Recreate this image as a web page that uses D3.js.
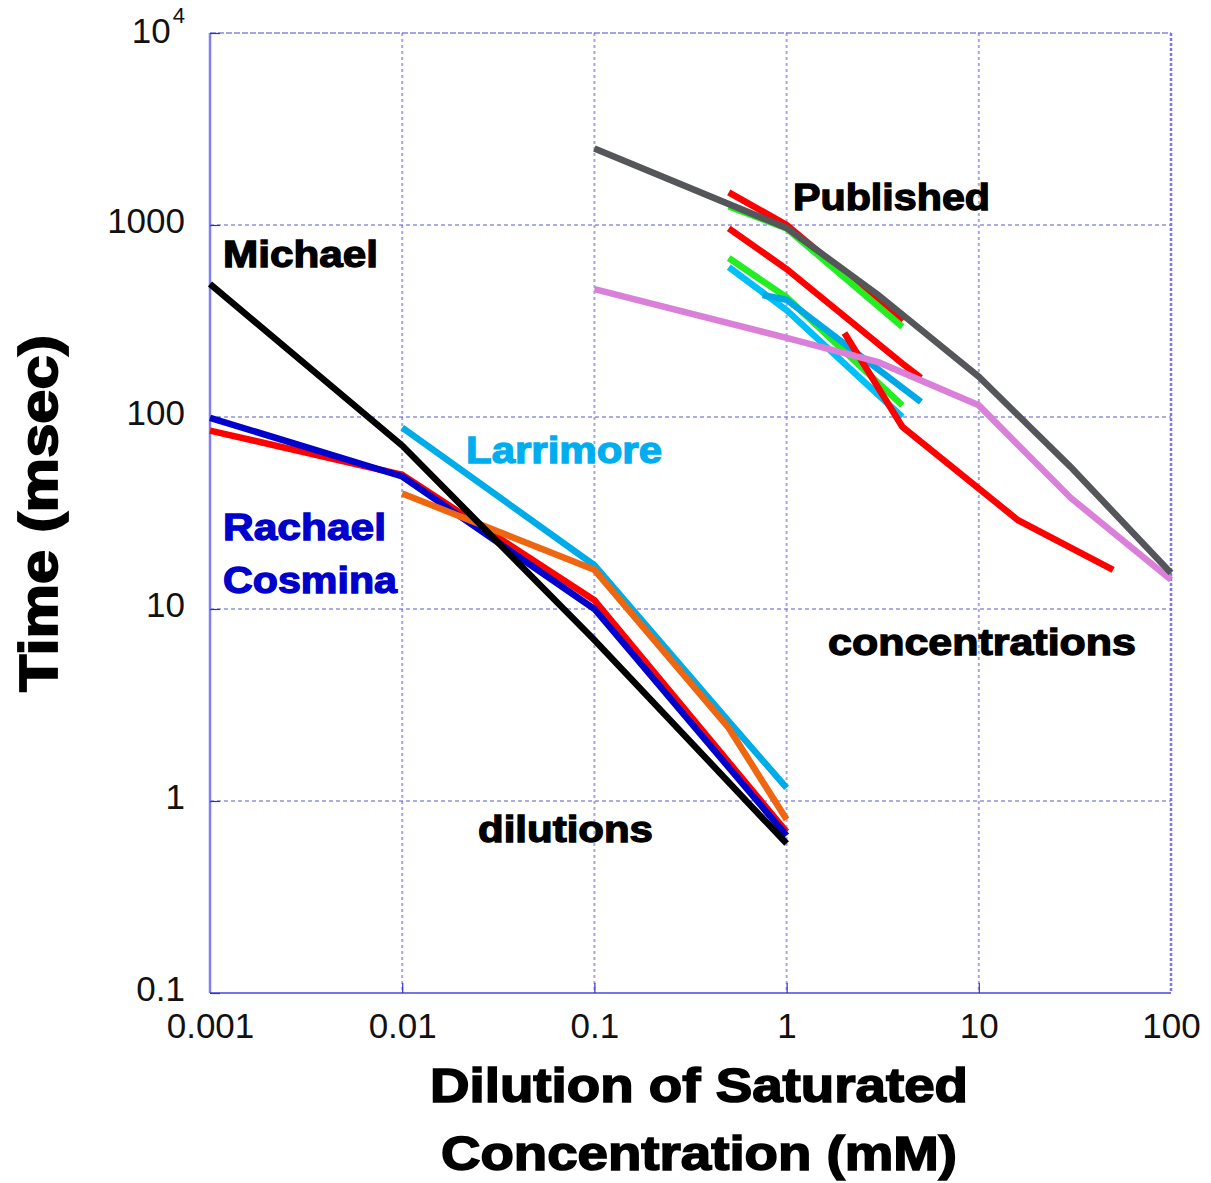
<!DOCTYPE html>
<html>
<head>
<meta charset="utf-8">
<script src="https://cdn.jsdelivr.net/npm/d3@7"></script>
<style>
  body { margin: 0; background: #fff; }
  text { font-family: "Liberation Sans", Arial, sans-serif; }
</style>
</head>
<body>
<svg id="chart"></svg>
<script>
  const W = 1211, H = 1183,
        plotLeft = 210, plotRight = 1171, plotTop = 33, plotBottom = 993;

  // tick values
  const xTicks = [0.001, 0.01, 0.1, 1, 10, 100];
  const xTickLabels = ["0.001", "0.01", "0.1", "1", "10", "100"];
  const yTicks = [0.1, 1, 10, 100, 1000, 10000];
  const yTickLabels = ["0.1", "1", "10", "100", "1000", "10^4"];

  // dilution series
  const michaelX = [0.001, 0.01, 0.1, 1],   michaelY = [493, 71, 6.9, 0.6];
  const rachaelX = [0.001, 0.01, 0.1, 1],   rachaelY = [99, 49, 10, 0.66];
  const cosminaX = [0.001, 0.01, 0.1, 1],   cosminaY = [85, 50, 11.1, 0.69];
  const larrimoreX = [0.01, 0.1, 0.5, 1],   larrimoreY = [88, 16.9, 2.6, 1.17];
  const orangeX = [0.01, 0.1, 0.5, 1],      orangeY = [40, 16.0, 2.4, 0.8];

  // published concentration series
  const grayX = [0.1, 1, 3, 10, 30, 100],   grayY = [2500, 965, 432, 162, 55, 15.4];
  const pinkX = [0.1, 1, 3, 10, 30, 100],   pinkY = [464, 258, 193, 115, 38, 14.2];
  const red1X = [0.5, 1, 4],                red1Y = [1480, 1000, 315];
  const green1X = [0.5, 1, 4],              green1Y = [1250, 960, 295];
  const red2X = [0.5, 1, 4, 5],             red2Y = [960, 590, 190, 160];
  const green2X = [0.5, 1, 4],              green2Y = [673, 420, 115];
  const cyan1X = [0.5, 1, 4],               cyan1Y = [604, 360, 100];
  const cyan2X = [0.75, 1, 5],              cyan2Y = [432, 408, 120];
  const red3X = [2, 4, 16, 50],             red3Y = [274, 89, 29, 16];

  const zip = (xs, ys) => xs.map((v, i) => ({x: v, y: ys[i]}));

  // draw order matters where lines overlap
  const series = [
    {d: zip(cosminaX, cosminaY),     c: "#ff0000"},
    {d: zip(rachaelX, rachaelY),     c: "#0000cc"},
    {d: zip(larrimoreX, larrimoreY), c: "#00ace8"},
    {d: zip(orangeX, orangeY),       c: "#ee6610"},
    {d: zip(michaelX, michaelY),     c: "#000000"},
    {d: zip(red2X, red2Y),           c: "#ff0000"},
    {d: zip(red1X, red1Y),           c: "#ff0000"},
    {d: zip(green1X, green1Y),       c: "#22ee22"},
    {d: zip(cyan1X, cyan1Y),         c: "#00c0f8"},
    {d: zip(green2X, green2Y),       c: "#22ee22"},
    {d: zip(cyan2X, cyan2Y),         c: "#00a8e6"},
    {d: zip(red3X, red3Y),           c: "#ff0000"},
    {d: zip(pinkX, pinkY),           c: "#da80d8"},
    {d: zip(grayX, grayY),           c: "#545659"}
  ];

  let x = d3.scaleLog().domain([0.001, 100]).range([plotLeft, plotRight]);
  let y = d3.scaleLog().domain([0.1, 10000]).range([plotBottom, plotTop]);

  let svg = d3.select("#chart")
              .attr("width", W)
              .attr("height", H);

  // vertical grid (dotted, light)
  svg.append("g")
     .selectAll("line")
     .data(xTicks.slice(1, -1))
     .enter()
     .append("line")
     .attr("x1", d => x(d)).attr("x2", d => x(d))
     .attr("y1", plotTop).attr("y2", plotBottom)
     .attr("stroke", "#a4a4f0")
     .attr("stroke-width", 2)
     .attr("stroke-dasharray", "3,3");

  // horizontal grid (dashed)
  svg.append("g")
     .selectAll("line")
     .data(yTicks.slice(1, -1))
     .enter()
     .append("line")
     .attr("x1", plotLeft).attr("x2", plotRight)
     .attr("y1", d => y(d)).attr("y2", d => y(d))
     .attr("stroke", "#5a5ad8")
     .attr("stroke-width", 1.2)
     .attr("stroke-dasharray", "4,3");

  // frame
  svg.append("line").attr("x1", plotLeft).attr("x2", plotLeft).attr("y1", plotTop).attr("y2", plotBottom)
     .attr("stroke", "#8080ee").attr("stroke-width", 2.5);
  svg.append("line").attr("x1", plotLeft).attr("x2", plotRight).attr("y1", plotBottom).attr("y2", plotBottom)
     .attr("stroke", "#4848d8").attr("stroke-width", 1.5);
  svg.append("line").attr("x1", plotLeft).attr("x2", plotRight).attr("y1", plotTop).attr("y2", plotTop)
     .attr("stroke", "#4848d8").attr("stroke-width", 1.2).attr("stroke-dasharray", "6,2");
  svg.append("line").attr("x1", plotRight).attr("x2", plotRight).attr("y1", plotTop).attr("y2", plotBottom)
     .attr("stroke", "#7878ee").attr("stroke-width", 2.5).attr("stroke-dasharray", "3,2");

  // axes
  let xAxis = d3.axisBottom(x)
                .tickValues(xTicks)
                .tickSize(-10)
                .tickPadding(20)
                .tickFormat((d, i) => xTickLabels[i]);

  let yAxis = d3.axisLeft(y)
                .tickValues(yTicks)
                .tickSize(-10)
                .tickPadding(25)
                .tickFormat((d, i) => yTickLabels[i]);

  let gx = svg.append("g")
              .attr("transform", "translate(0," + plotBottom + ")")
              .call(xAxis);
  gx.select(".domain").remove();

  let gy = svg.append("g")
              .attr("transform", "translate(" + plotLeft + ",0)")
              .call(yAxis);
  gy.select(".domain").remove();

  [gx, gy].forEach(g => {
    g.selectAll(".tick line").attr("stroke", "#3030cc").attr("stroke-width", 1.2);
    g.selectAll(".tick text")
     .attr("font-size", 35)
     .attr("font-family", "'Liberation Sans', Arial, sans-serif")
     .attr("fill", "#111");
  });
  gx.selectAll(".tick line").filter(d => d === 0.001 || d === 100).remove();
  gy.selectAll(".tick text").attr("dy", "0.22em");

  // 10^4 label with superscript
  gy.selectAll(".tick text")
    .filter(d => d === 10000)
    .text("10")
    .attr("x", -25)
    .attr("dy", "0.26em")
    .append("tspan")
    .attr("font-size", 22)
    .attr("dy", "-0.9em")
    .attr("dx", "2")
    .text("4");

  // data lines
  let line = d3.line()
               .x(d => x(d.x))
               .y(d => y(d.y));

  svg.append("g")
     .selectAll("path")
     .data(series)
     .enter()
     .append("path")
     .attr("d", d => line(d.d))
     .attr("fill", "none")
     .attr("stroke", d => d.c)
     .attr("stroke-width", 6.5)
     .attr("stroke-linejoin", "miter")
     .attr("stroke-linecap", "butt");

  // annotations
  const notes = [
    {t: "Published",      x: 793, y: 210, w: 197, c: "#000"},
    {t: "Michael",        x: 223, y: 267, w: 155, c: "#000"},
    {t: "Larrimore",      x: 466, y: 463, w: 196, c: "#00aeef"},
    {t: "Rachael",        x: 223, y: 540, w: 163, c: "#0000cc"},
    {t: "Cosmina",        x: 223, y: 593, w: 174, c: "#0000cc"},
    {t: "concentrations", x: 828, y: 655, w: 308, c: "#000"},
    {t: "dilutions",      x: 478, y: 842, w: 175, c: "#000"}
  ];

  svg.append("g")
     .selectAll("text")
     .data(notes)
     .enter()
     .append("text")
     .attr("x", d => d.x)
     .attr("y", d => d.y)
     .attr("textLength", d => d.w)
     .attr("lengthAdjust", "spacingAndGlyphs")
     .attr("font-size", 37)
     .attr("font-weight", "bold")
     .attr("fill", d => d.c)
     .attr("stroke", d => d.c)
     .attr("stroke-width", 1.3)
     .text(d => d.t);

  // axis titles
  const bigText = (s, x0, y0, w, fs) =>
    svg.append("text")
       .attr("x", x0).attr("y", y0)
       .attr("textLength", w)
       .attr("lengthAdjust", "spacingAndGlyphs")
       .attr("font-size", fs)
       .attr("font-weight", "bold")
       .attr("fill", "#000")
       .attr("stroke", "#000")
       .attr("stroke-width", 1.6)
       .text(s);

  bigText("Dilution of Saturated", 430, 1102, 538, 48);
  bigText("Concentration (mM)", 441, 1170, 516, 48);

  svg.append("text")
     .attr("transform", "translate(57,692) rotate(-90)")
     .attr("textLength", 357)
     .attr("lengthAdjust", "spacingAndGlyphs")
     .attr("font-size", 54)
     .attr("font-weight", "bold")
     .attr("fill", "#000")
     .attr("stroke", "#000")
     .attr("stroke-width", 1.8)
     .text("Time (msec)");
</script>
</body>
</html>
